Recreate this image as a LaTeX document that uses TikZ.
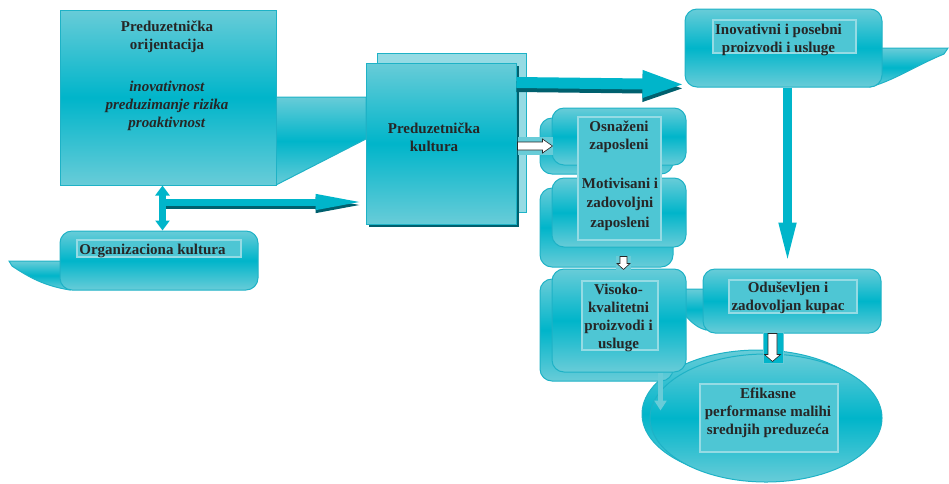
\documentclass[tikz,border=0pt]{standalone}
\usepackage{fontspec}
\setmainfont{Liberation Serif}
\usetikzlibrary{arrows.meta,calc,shapes.geometric}

\definecolor{tealmid}{RGB}{0,181,202}
\definecolor{teallight}{RGB}{104,204,216}
\definecolor{tealedge}{RGB}{30,178,198}
\definecolor{tealdark}{RGB}{0,96,110}
\definecolor{txtgray}{RGB}{38,38,38}

\tikzset{
  tbox/.style={draw=tealedge, line width=1pt, top color=teallight, bottom color=teallight, middle color=tealmid, inner sep=0pt},
  rbox/.style={tbox, rounded corners=12pt},
  pale/.style={draw=tealedge, line width=1pt, fill=teallight!70!white, inner sep=0pt},
  ellbox/.style={tbox, ellipse},
  inbox/.style={draw=teallight!70!white, line width=1.2pt, fill=teallight!75!tealmid, inner sep=0pt},
  lbl/.style={font=\bfseries\fontsize{15}{18}\selectfont, text=txtgray, align=center, inner sep=0pt},
  fat/.style={line width=#1, draw=tealmid},
  hollow/.style={draw=black!85, line width=0.6pt, fill=white},
}

\begin{document}
\begin{tikzpicture}[x=1pt,y=-1pt]
\useasboundingbox (0,0) rectangle (949,483);

% tails behind the boxes
\draw[tbox] (276,97) -- (366,97) -- (366,139) -- (276,185) -- cycle;
\draw[tbox] (870,48) -- (948,48) -- (944,54) .. controls (915,66) and (895,80) .. (870,87) -- cycle;
\draw[tbox] (70,261) -- (9,261) -- (12,266) .. controls (30,278) and (45,286) .. (70,290) -- cycle;
\draw[tbox] (680,289) -- (706,289) -- (706,330) .. controls (694,327) and (688,318) .. (680,310) -- cycle;

% boxes
\node[tbox, minimum width=216pt, minimum height=175pt] (orij) at (168,97.5) {};
\node[pale, minimum width=149pt, minimum height=159pt] (kultback) at (451.5,132.5) {};
\fill[tealdark] (369,66) rectangle (519,227);
\node[tbox, minimum width=150pt, minimum height=161pt] (kult) at (441,143.5) {};
\node[rbox, minimum width=197pt, minimum height=78pt] (inov) at (783.5,48) {};
\node[rbox, minimum width=198pt, minimum height=59pt] (org) at (159,260.5) {};
\node[ellbox, minimum width=232pt, minimum height=128pt] (effback) at (758,414) {};
\node[ellbox, minimum width=232pt, minimum height=128pt] (eff) at (766,418) {};
\node[rbox, minimum width=133pt, minimum height=56pt] (osnback) at (606.5,146) {};
\node[rbox, minimum width=134pt, minimum height=57pt] (osn) at (619,136.5) {};
\node[rbox, minimum width=133pt, minimum height=79pt] (motback) at (606.5,227.5) {};
\node[rbox, minimum width=134pt, minimum height=69pt] (mot) at (619,212.5) {};
\node[rbox, minimum width=133pt, minimum height=102pt] (visback) at (606.5,330) {};
\node[rbox, minimum width=134pt, minimum height=103pt] (vis) at (619,320.5) {};
\node[rbox, minimum width=178pt, minimum height=64pt] (odus) at (792,301) {};

% inner frames
\node[inbox, minimum width=83pt, minimum height=123pt] (osnin) at (619.5,178.5) {};
\node[inbox, minimum width=76pt, minimum height=69pt] (visin) at (620,315.5) {};
\node[inbox, minimum width=128pt, minimum height=33pt] (odusin) at (793,296.5) {};
\node[inbox, minimum width=143pt, minimum height=33pt] (inovin) at (784.5,36.5) {};
\node[inbox, minimum width=164pt, minimum height=17pt] (orgin) at (159,248.5) {};
\node[inbox, minimum width=138pt, minimum height=68pt] (effin) at (769,418) {};

% texts
\node[lbl] (orijtxt) at (167,76) {Preduzetnička\\orijentacija\\[24pt]\textit{inovativnost}\\\textit{preduzimanje rizika}\\\textit{proaktivnost}};
\node[lbl] (kulttxt) at (434,137) {Preduzetnička\\kultura};
\node[lbl] (inovtxt) at (778.5,40) {Inovativni i posebni\\proizvodi i usluge};
\node[lbl] (osntxt) at (619,137) {Osnaženi\\zaposleni};
\node[lbl, font=\bfseries\fontsize{15}{19.5}\selectfont] (mottxt) at (620,204) {Motivisani i\\zadovoljni\\zaposleni};
\node[lbl] (vistxt) at (618.5,318) {Visoko-\\kvalitetni\\proizvodi i\\usluge};
\node[lbl] (odustxt) at (788,298) {Oduševljen i\\zadovoljan kupac};
\node[lbl] (efftxt) at (768,413) {Efikasne\\performanse malihi\\srednjih preduzeća};
\node[lbl] (orgtxt) at (152.5,251) {Organizaciona kultura};

% connectors
\draw[fat=11pt, draw=tealdark, transform canvas={yshift=-4pt}, -{Triangle[length=44pt,width=24pt]}] ($(kult.north east)+(0,20)$) -- ($(inov.south west)+(2,-3)$);
\draw[fat=11pt, -{Triangle[length=44pt,width=24pt]}] ($(kult.north east)+(0,20)$) -- ($(inov.south west)+(2,-3)$);

\draw[fat=9pt, -{Triangle[length=46pt,width=15pt]}] ($(inov.south)+(4,0)$) -- ($(inov.south |- odus.north)+(4,0)$);

\fill[tealmid, draw=teallight] ($(odus.south)+(-29,-1)$) rectangle ($(odus.south)+(-9,30)$);
\draw[hollow] ($(odus.south)+(-24,0)$) -- ++(0,21) -- ++(-3.5,0) -- ++(8,7) -- ++(8,-7) -- ++(-3.5,0) -- ++(0,-21) -- cycle;

\fill[teallight] ($(kult.east)+(1,-6.5)$) rectangle ($(osnback.west)+(13,9)$);
\draw[hollow] ($(kult.east)+(1,-1.5)$) -- ++(25,0) -- ++(0,-3) -- ++(10,7) -- ++(-10,7) -- ++(0,-3) -- ++(-25,0) -- cycle;

\fill[teallight] ($(vis.north)+(-3,-13)$) rectangle ($(vis.north)+(12,1)$);
\draw[hollow] ($(vis.north)+(1,-12)$) -- ++(0,7) -- ++(-3,0) -- ++(6.5,6) -- ++(6.5,-6) -- ++(-3,0) -- ++(0,-7) -- cycle;

\coordinate (effentry) at ($(vis.south)+(41.5,38)$);
\draw[line width=5pt, draw=teallight, -{Triangle[length=10pt,width=12pt]}] ($(vis.south)+(41.5,0)$) -- (effentry);

\draw[fat=7pt, {Triangle[length=10pt,width=14pt]}-{Triangle[length=10pt,width=14pt]}] ($(orij.south)+(-5.5,0)$) -- ($(orij.south |- org.north)+(-5.5,0)$);

\coordinate (junc) at ($(orij.south)+(-2,16.5)$);
\draw[fat=7pt, draw=tealdark, transform canvas={yshift=-3pt}, -{Triangle[length=50pt,width=14pt]}] (junc) -- (junc -| kult.west);
\draw[fat=7pt, -{Triangle[length=50pt,width=14pt]}] (junc) -- (junc -| kult.west);
\end{tikzpicture}
\end{document}
